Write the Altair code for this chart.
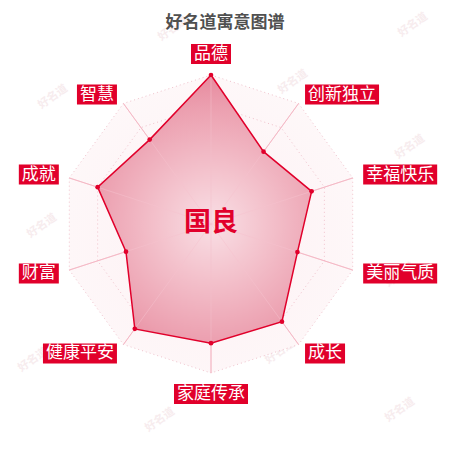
import math
import altair as alt
import pandas as pd

chart_title = "好名道寓意图谱"
center_name = "国良"
categories = ["品德", "创新独立", "幸福快乐", "美丽气质", "成长", "家庭传承", "健康平安", "财富", "成就", "智慧"]
values = [100, 60, 71, 61, 81, 80, 87, 60, 80, 70]
max_value = 100
ring_levels = [20, 40, 60, 80, 100]
watermark = "好名道"
watermark_px = [173, 413, 53, 293, 410, 42, 400, 280, 33, 160, 400]
watermark_py = [29, 25, 97, 82, 147, 226, 275, 352, 360, 420, 410]

W, H = 434, 434
CX, CY = 203, 216      # radar centre inside the chart (px)
R = 149                # outer radius (px)
GAP = 11
FONT = "Noto Sans CJK SC"
RED = "#e1002b"
LABEL_FS = 17
BOX_H = 20

n = len(categories)
ang = [2 * math.pi * i / n for i in range(n)]


def pos(v, a):
    r = v / max_value * R
    return r * math.sin(a), r * math.cos(a)


# polygon
poly = []
for k in range(n + 1):
    i = k % n
    x, y = pos(values[i], ang[i])
    poly.append({"idx": k, "x": x, "y": y, "cat": categories[i], "v": values[i]})
poly_df = pd.DataFrame(poly)
pts_df = poly_df.iloc[:n]

# rings
rings = []
for lv in ring_levels:
    for k in range(n + 1):
        i = k % n
        x, y = pos(lv, ang[i])
        rings.append({"level": lv, "idx": k, "x": x, "y": y})
rings_df = pd.DataFrame(rings)
outer_df = rings_df[rings_df.level == max_value]

# axes
axes_df = pd.DataFrame([
    {"x": 0.0, "y": 0.0, "x2": pos(max_value, a)[0], "y2": pos(max_value, a)[1]} for a in ang
])

# labels
labs = []
for i, c in enumerate(categories):
    a = ang[i]
    ax_, ay_ = (R + GAP) * math.sin(a), (R + GAP) * math.cos(a)
    w = LABEL_FS * len(c) + 6
    s = math.sin(a)
    cy_ = math.cos(a)
    if abs(s) < 0.01:
        bx = ax_
        by = ay_ + (BOX_H / 2 if cy_ > 0 else -BOX_H / 2)
    elif s > 0:
        bx, by = ax_ + w / 2, ay_
    else:
        bx, by = ax_ - w / 2, ay_
    labs.append({"label": c, "x": bx, "y": by, "x1": bx - w / 2, "x2": bx + w / 2,
                 "y1": by - BOX_H / 2, "y2": by + BOX_H / 2})
lab_df = pd.DataFrame(labs)

wm_df = pd.DataFrame({"x": [px - 8 - CX for px in watermark_px],
                      "y": [CY - (py - 8) for py in watermark_py],
                      "t": [watermark] * len(watermark_px)})

xs = alt.Scale(domain=[-CX, W - CX], nice=False, zero=False)
ys = alt.Scale(domain=[-(H - CY), CY], nice=False, zero=False)
X = alt.X("x:Q", scale=xs, axis=None)
Y = alt.Y("y:Q", scale=ys, axis=None)

# gradient for polygon, centred on the radar centre
xmin, xmax = pts_df.x.min(), pts_df.x.max()
ymin, ymax = pts_df.y.min(), pts_df.y.max()
bw, bh = xmax - xmin, ymax - ymin
gcx = (0 - xmin) / bw
gcy = (ymax - 0) / bh
poly_grad = {
    "gradient": "radial",
    "x1": gcx, "y1": gcy, "r1": 0,
    "x2": gcx, "y2": gcy, "r2": R / ((bw + bh) / 2),
    "stops": [
        {"offset": 0.0, "color": "#f9dfe5"},
        {"offset": 0.3, "color": "#f4c4ce"},
        {"offset": 0.7, "color": "#eca0b0"},
        {"offset": 1.0, "color": "#e47f95"},
    ],
}
bg_grad = {
    "gradient": "radial",
    "x1": 0.5, "y1": 0.553, "r1": 0,
    "x2": 0.5, "y2": 0.553, "r2": 0.55,
    "stops": [
        {"offset": 0.0, "color": "#fdf0f3"},
        {"offset": 1.0, "color": "#fef8f9"},
    ],
}

wm = alt.Chart(wm_df).mark_text(font=FONT, fontSize=11, angle=325, color="#f7ecee",
                                fontWeight="bold").encode(x=X, y=Y, text="t:N")

bg = alt.Chart(outer_df).mark_line(fill=bg_grad, strokeOpacity=0).encode(
    x=X, y=Y, order="idx:Q")

ring = alt.Chart(rings_df).mark_line(color="#f0c2cc", strokeWidth=1, strokeDash=[1, 3]).encode(
    x=X, y=Y, detail="level:N", order="idx:Q")

axis_lines = alt.Chart(axes_df).mark_rule(color="#f4b0be", strokeWidth=1).encode(
    x=X, y=Y, x2="x2:Q", y2="y2:Q")

area = alt.Chart(poly_df).mark_line(fill=poly_grad, color=RED, strokeWidth=1.5).encode(
    x=X, y=Y, order="idx:Q")

axis_over = alt.Chart(axes_df).mark_rule(color="#f6c2cd", strokeWidth=1, opacity=0.5).encode(
    x=X, y=Y, x2="x2:Q", y2="y2:Q")

pts = alt.Chart(pts_df).mark_circle(color=RED, size=22, opacity=1).encode(x=X, y=Y)

boxes = alt.Chart(lab_df).mark_rect(color=RED).encode(
    x=alt.X("x1:Q", scale=xs, axis=None), x2="x2:Q",
    y=alt.Y("y1:Q", scale=ys, axis=None), y2="y2:Q")

labels = alt.Chart(lab_df).mark_text(font=FONT, fontSize=LABEL_FS, color="white",
                                     align="center", baseline="middle").encode(
    x=X, y=Y, text="label:N")

center = alt.Chart(pd.DataFrame({"x": [0], "y": [1], "t": [center_name]})).mark_text(
    font=FONT, fontSize=27, fontWeight="bold", color=RED, align="center", baseline="middle"
).encode(x=X, y=Y, text="t:N")

title = alt.Chart(pd.DataFrame({"x": [225 - 8 - CX], "y": [CY - (23 - 8)], "t": [chart_title]})).mark_text(
    font=FONT, fontSize=17, fontWeight="bold", color="#505050", align="center", baseline="middle"
).encode(x=X, y=Y, text="t:N")

chart = alt.layer(wm, bg, ring, axis_lines, area, axis_over, pts, boxes, labels, center, title).properties(
    width=W, height=H, autosize="none", padding=0
).configure_view(stroke=None)

chart.save("out.html", embed_options={"renderer": "svg", "actions": False})
